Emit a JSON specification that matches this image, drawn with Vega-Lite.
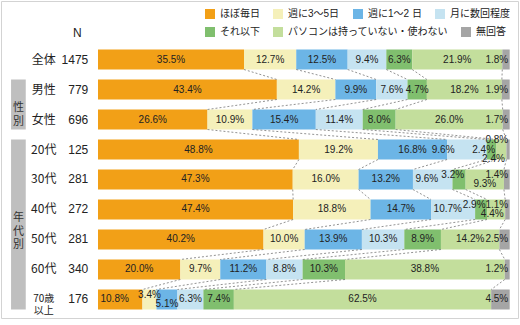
{
  "$schema": "https://vega.github.io/schema/vega-lite/v6.json",
  "width": 517,
  "height": 317,
  "autosize": {"type": "none"},
  "padding": {"left": 1, "top": 1, "right": 2, "bottom": 7},
  "background": "white",
  "config": {
    "view": {"stroke": "#d3d3d3", "strokeWidth": 1},
    "font": "Liberation Sans, Noto Sans CJK JP",
    "legend": {
      "orient": "top-right",
      "direction": "horizontal",
      "title": null,
      "symbolType": "square",
      "symbolSize": 100,
      "symbolStrokeWidth": 0,
      "labelFontSize": 10,
      "labelFont": "Liberation Sans, Noto Sans CJK JP",
      "labelColor": "#222222",
      "labelLimit": 300,
      "labelOffset": 5,
      "columnPadding": 13,
      "offset": 8,
      "padding": 0,
      "layout": {"top-right": {"direction": "vertical", "anchor": "end", "margin": 8}}
    }
  },
  "datasets": {
    "d": [
      {"g": "全体", "r": 0, "k": 0, "c": "ほぼ毎日", "v": 35.5, "lp": "c"},
      {"g": "全体", "r": 0, "k": 1, "c": "週に3～5日", "v": 12.7, "lp": "c"},
      {"g": "全体", "r": 0, "k": 2, "c": "週に1～2 日", "v": 12.5, "lp": "c"},
      {"g": "全体", "r": 0, "k": 3, "c": "月に数回程度", "v": 9.4, "lp": "c"},
      {"g": "全体", "r": 0, "k": 4, "c": "それ以下", "v": 6.3, "lp": "c"},
      {"g": "全体", "r": 0, "k": 5, "c": "パソコンは持っていない・使わない", "v": 21.9, "lp": "c"},
      {"g": "全体", "r": 0, "k": 6, "c": "無回答", "v": 1.8, "lp": "r"},
      {"g": "男性", "r": 1, "k": 0, "c": "ほぼ毎日", "v": 43.4, "lp": "c"},
      {"g": "男性", "r": 1, "k": 1, "c": "週に3～5日", "v": 14.2, "lp": "c"},
      {"g": "男性", "r": 1, "k": 2, "c": "週に1～2 日", "v": 9.9, "lp": "c"},
      {"g": "男性", "r": 1, "k": 3, "c": "月に数回程度", "v": 7.6, "lp": "c"},
      {"g": "男性", "r": 1, "k": 4, "c": "それ以下", "v": 4.7, "lp": "c"},
      {"g": "男性", "r": 1, "k": 5, "c": "パソコンは持っていない・使わない", "v": 18.2, "lp": "c"},
      {"g": "男性", "r": 1, "k": 6, "c": "無回答", "v": 1.9, "lp": "r"},
      {"g": "女性", "r": 2, "k": 0, "c": "ほぼ毎日", "v": 26.6, "lp": "c"},
      {"g": "女性", "r": 2, "k": 1, "c": "週に3～5日", "v": 10.9, "lp": "c"},
      {"g": "女性", "r": 2, "k": 2, "c": "週に1～2 日", "v": 15.4, "lp": "c"},
      {"g": "女性", "r": 2, "k": 3, "c": "月に数回程度", "v": 11.4, "lp": "c"},
      {"g": "女性", "r": 2, "k": 4, "c": "それ以下", "v": 8.0, "lp": "c"},
      {"g": "女性", "r": 2, "k": 5, "c": "パソコンは持っていない・使わない", "v": 26.0, "lp": "c"},
      {"g": "女性", "r": 2, "k": 6, "c": "無回答", "v": 1.7, "lp": "r"},
      {"g": "20代", "r": 3, "k": 0, "c": "ほぼ毎日", "v": 48.8, "lp": "c"},
      {"g": "20代", "r": 3, "k": 1, "c": "週に3～5日", "v": 19.2, "lp": "c"},
      {"g": "20代", "r": 3, "k": 2, "c": "週に1～2 日", "v": 16.8, "lp": "c"},
      {"g": "20代", "r": 3, "k": 3, "c": "月に数回程度", "v": 9.6, "lp": "s"},
      {"g": "20代", "r": 3, "k": 4, "c": "それ以下", "v": 2.4, "lp": "r"},
      {"g": "20代", "r": 3, "k": 5, "c": "パソコンは持っていない・使わない", "v": 2.4, "lp": "rD"},
      {"g": "20代", "r": 3, "k": 6, "c": "無回答", "v": 0.8, "lp": "rU"},
      {"g": "30代", "r": 4, "k": 0, "c": "ほぼ毎日", "v": 47.3, "lp": "c"},
      {"g": "30代", "r": 4, "k": 1, "c": "週に3～5日", "v": 16.0, "lp": "c"},
      {"g": "30代", "r": 4, "k": 2, "c": "週に1～2 日", "v": 13.2, "lp": "c"},
      {"g": "30代", "r": 4, "k": 3, "c": "月に数回程度", "v": 9.6, "lp": "l"},
      {"g": "30代", "r": 4, "k": 4, "c": "それ以下", "v": 3.2, "lp": "ru"},
      {"g": "30代", "r": 4, "k": 5, "c": "パソコンは持っていない・使わない", "v": 9.3, "lp": "cd"},
      {"g": "30代", "r": 4, "k": 6, "c": "無回答", "v": 1.4, "lp": "ru"},
      {"g": "40代", "r": 5, "k": 0, "c": "ほぼ毎日", "v": 47.4, "lp": "c"},
      {"g": "40代", "r": 5, "k": 1, "c": "週に3～5日", "v": 18.8, "lp": "c"},
      {"g": "40代", "r": 5, "k": 2, "c": "週に1～2 日", "v": 14.7, "lp": "c"},
      {"g": "40代", "r": 5, "k": 3, "c": "月に数回程度", "v": 10.7, "lp": "l"},
      {"g": "40代", "r": 5, "k": 4, "c": "それ以下", "v": 2.9, "lp": "ru"},
      {"g": "40代", "r": 5, "k": 5, "c": "パソコンは持っていない・使わない", "v": 4.4, "lp": "rd"},
      {"g": "40代", "r": 5, "k": 6, "c": "無回答", "v": 1.1, "lp": "ru"},
      {"g": "50代", "r": 6, "k": 0, "c": "ほぼ毎日", "v": 40.2, "lp": "c"},
      {"g": "50代", "r": 6, "k": 1, "c": "週に3～5日", "v": 10.0, "lp": "c"},
      {"g": "50代", "r": 6, "k": 2, "c": "週に1～2 日", "v": 13.9, "lp": "c"},
      {"g": "50代", "r": 6, "k": 3, "c": "月に数回程度", "v": 10.3, "lp": "c"},
      {"g": "50代", "r": 6, "k": 4, "c": "それ以下", "v": 8.9, "lp": "c"},
      {"g": "50代", "r": 6, "k": 5, "c": "パソコンは持っていない・使わない", "v": 14.2, "lp": "c"},
      {"g": "50代", "r": 6, "k": 6, "c": "無回答", "v": 2.5, "lp": "r"},
      {"g": "60代", "r": 7, "k": 0, "c": "ほぼ毎日", "v": 20.0, "lp": "c"},
      {"g": "60代", "r": 7, "k": 1, "c": "週に3～5日", "v": 9.7, "lp": "c"},
      {"g": "60代", "r": 7, "k": 2, "c": "週に1～2 日", "v": 11.2, "lp": "c"},
      {"g": "60代", "r": 7, "k": 3, "c": "月に数回程度", "v": 8.8, "lp": "c"},
      {"g": "60代", "r": 7, "k": 4, "c": "それ以下", "v": 10.3, "lp": "c"},
      {"g": "60代", "r": 7, "k": 5, "c": "パソコンは持っていない・使わない", "v": 38.8, "lp": "c"},
      {"g": "60代", "r": 7, "k": 6, "c": "無回答", "v": 1.2, "lp": "r"},
      {"g": "70歳\n以上", "r": 8, "k": 0, "c": "ほぼ毎日", "v": 10.8, "lp": "l"},
      {"g": "70歳\n以上", "r": 8, "k": 1, "c": "週に3～5日", "v": 3.4, "lp": "cu"},
      {"g": "70歳\n以上", "r": 8, "k": 2, "c": "週に1～2 日", "v": 5.1, "lp": "cd"},
      {"g": "70歳\n以上", "r": 8, "k": 3, "c": "月に数回程度", "v": 6.3, "lp": "c"},
      {"g": "70歳\n以上", "r": 8, "k": 4, "c": "それ以下", "v": 7.4, "lp": "c"},
      {"g": "70歳\n以上", "r": 8, "k": 5, "c": "パソコンは持っていない・使わない", "v": 62.5, "lp": "c"},
      {"g": "70歳\n以上", "r": 8, "k": 6, "c": "無回答", "v": 4.5, "lp": "r"}
    ],
    "rows": [
      {"g": "全体", "N": "1475"},
      {"g": "男性", "N": "779"},
      {"g": "女性", "N": "696"},
      {"g": "20代", "N": "125"},
      {"g": "30代", "N": "281"},
      {"g": "40代", "N": "272"},
      {"g": "50代", "N": "281"},
      {"g": "60代", "N": "340"},
      {"g": "70歳\n以上", "N": "176"}
    ],
    "boxes": [
      {"t": "性\n別", "g0": "男性", "g1": "女性", "ga": "女性"},
      {"t": "年\n代\n別", "g0": "20代", "g1": "70歳\n以上", "ga": "40代"}
    ]
  },
  "resolve": {"scale": {"x": "independent"}},
  "layer": [
    {
      "data": {"name": "d"},
      "resolve": {"scale": {"color": "independent"}},
      "layer": [
        {
          "transform": [
            {"stack": "v", "groupby": ["g"], "sort": [{"field": "k", "order": "ascending"}], "as": ["s0", "s1"], "offset": "normalize"},
            {"filter": "datum.k < 4"}
          ],
          "mark": {"type": "bar"},
          "encoding": {
            "y": {"field": "g", "type": "nominal", "scale": {"domain": ["hdr", "全体", "男性", "女性", "20代", "30代", "40代", "50代", "60代", "70歳\n以上"], "range": [18.5, 308.5], "paddingInner": 0.3333, "paddingOuter": 0}, "axis": null},
            "x": {"field": "s0", "type": "quantitative", "scale": {"domain": [0, 1], "range": [97, 508.7], "nice": false, "zero": false}, "axis": null},
            "x2": {"field": "s1"},
            "color": {"field": "c", "type": "nominal",
              "scale": {"domain": ["ほぼ毎日", "週に3～5日", "週に1～2 日", "月に数回程度"],
                        "range": ["#F2A017", "#F5F0BA", "#6CB5E6", "#C5E3F1"]}}
          }
        },
        {
          "transform": [
            {"stack": "v", "groupby": ["g"], "sort": [{"field": "k", "order": "ascending"}], "as": ["s0", "s1"], "offset": "normalize"},
            {"filter": "datum.k >= 4"}
          ],
          "mark": {"type": "bar"},
          "encoding": {
            "y": {"field": "g", "type": "nominal", "axis": null},
            "x": {"field": "s0", "type": "quantitative", "axis": null},
            "x2": {"field": "s1"},
            "color": {"field": "c", "type": "nominal",
              "scale": {"domain": ["それ以下", "パソコンは持っていない・使わない", "無回答"],
                        "range": ["#80BF6E", "#C3DE9C", "#A5A5A5"]}}
          }
        },
        {
          "transform": [
            {"stack": "v", "groupby": ["g"], "sort": [{"field": "k", "order": "ascending"}], "as": ["s0", "s1"], "offset": "normalize"},
            {"window": [{"op": "lead", "field": "s1", "as": "ns1"}, {"op": "lead", "field": "g", "as": "ng"}], "groupby": ["k"], "sort": [{"field": "r", "order": "ascending"}]},
            {"filter": "datum.k < 6 && isValid(datum.ng)"}
          ],
          "mark": {"type": "rule", "strokeDash": [2, 2], "color": "#777777", "strokeWidth": 0.8},
          "encoding": {
            "x": {"field": "s1", "type": "quantitative", "axis": null},
            "x2": {"field": "ns1"},
            "y": {"field": "g", "type": "nominal", "bandPosition": 1, "axis": null},
            "y2": {"field": "ng", "bandPosition": 0}
          }
        },
        {
          "mark": {"type": "text", "align": "center", "fontSize": 10, "color": "#222222"},
          "encoding": {
            "y": {"field": "g", "type": "nominal", "axis": null},
            "x": {"field": "v", "type": "quantitative", "stack": "normalize", "bandPosition": 0.5, "axis": null},
            "detail": {"field": "c"},
            "order": {"field": "k", "type": "quantitative"},
            "text": {"value": {"expr": "datum.lp === 'c' ? format(datum.v, '.1f') + '%' : ''"}}
          }
        },
        {
          "mark": {"type": "text", "align": "center", "fontSize": 10, "color": "#222222", "dy": -4.5},
          "encoding": {
            "y": {"field": "g", "type": "nominal", "axis": null},
            "x": {"field": "v", "type": "quantitative", "stack": "normalize", "bandPosition": 0.5, "axis": null},
            "detail": {"field": "c"},
            "order": {"field": "k", "type": "quantitative"},
            "text": {"value": {"expr": "datum.lp === 'cu' ? format(datum.v, '.1f') + '%' : ''"}}
          }
        },
        {
          "mark": {"type": "text", "align": "center", "fontSize": 10, "color": "#222222", "dy": 5},
          "encoding": {
            "y": {"field": "g", "type": "nominal", "axis": null},
            "x": {"field": "v", "type": "quantitative", "stack": "normalize", "bandPosition": 0.5, "axis": null},
            "detail": {"field": "c"},
            "order": {"field": "k", "type": "quantitative"},
            "text": {"value": {"expr": "datum.lp === 'cd' ? format(datum.v, '.1f') + '%' : ''"}}
          }
        },
        {
          "mark": {"type": "text", "align": "left", "fontSize": 10, "color": "#222222", "dx": 2.5},
          "encoding": {
            "y": {"field": "g", "type": "nominal", "axis": null},
            "x": {"field": "v", "type": "quantitative", "stack": "normalize", "bandPosition": 0, "axis": null},
            "detail": {"field": "c"},
            "order": {"field": "k", "type": "quantitative"},
            "text": {"value": {"expr": "datum.lp === 'l' ? format(datum.v, '.1f') + '%' : ''"}}
          }
        },
        {
          "mark": {"type": "text", "align": "center", "fontSize": 10, "color": "#222222", "dx": -4},
          "encoding": {
            "y": {"field": "g", "type": "nominal", "axis": null},
            "x": {"field": "v", "type": "quantitative", "stack": "normalize", "bandPosition": 0, "axis": null},
            "detail": {"field": "c"},
            "order": {"field": "k", "type": "quantitative"},
            "text": {"value": {"expr": "datum.lp === 's' ? format(datum.v, '.1f') + '%' : ''"}}
          }
        },
        {
          "mark": {"type": "text", "align": "right", "fontSize": 10, "color": "#222222", "dx": -1.5},
          "encoding": {
            "y": {"field": "g", "type": "nominal", "axis": null},
            "x": {"field": "v", "type": "quantitative", "stack": "normalize", "bandPosition": 1, "axis": null},
            "detail": {"field": "c"},
            "order": {"field": "k", "type": "quantitative"},
            "text": {"value": {"expr": "datum.lp === 'r' ? format(datum.v, '.1f') + '%' : ''"}}
          }
        },
        {
          "mark": {"type": "text", "align": "right", "fontSize": 10, "color": "#222222", "dx": -1.5, "dy": -4.5},
          "encoding": {
            "y": {"field": "g", "type": "nominal", "axis": null},
            "x": {"field": "v", "type": "quantitative", "stack": "normalize", "bandPosition": 1, "axis": null},
            "detail": {"field": "c"},
            "order": {"field": "k", "type": "quantitative"},
            "text": {"value": {"expr": "datum.lp === 'ru' ? format(datum.v, '.1f') + '%' : ''"}}
          }
        },
        {
          "mark": {"type": "text", "align": "right", "fontSize": 10, "color": "#222222", "dx": -1.5, "dy": 5},
          "encoding": {
            "y": {"field": "g", "type": "nominal", "axis": null},
            "x": {"field": "v", "type": "quantitative", "stack": "normalize", "bandPosition": 1, "axis": null},
            "detail": {"field": "c"},
            "order": {"field": "k", "type": "quantitative"},
            "text": {"value": {"expr": "datum.lp === 'rd' ? format(datum.v, '.1f') + '%' : ''"}}
          }
        },
        {
          "mark": {"type": "text", "align": "right", "fontSize": 10, "color": "#222222", "dx": -1.5, "dy": -9.5},
          "encoding": {
            "y": {"field": "g", "type": "nominal", "axis": null},
            "x": {"field": "v", "type": "quantitative", "stack": "normalize", "bandPosition": 1, "axis": null},
            "detail": {"field": "c"},
            "order": {"field": "k", "type": "quantitative"},
            "text": {"value": {"expr": "datum.lp === 'rU' ? format(datum.v, '.1f') + '%' : ''"}}
          }
        },
        {
          "mark": {"type": "text", "align": "right", "fontSize": 10, "color": "#222222", "dx": -1.5, "dy": 9.5},
          "encoding": {
            "y": {"field": "g", "type": "nominal", "axis": null},
            "x": {"field": "v", "type": "quantitative", "stack": "normalize", "bandPosition": 1, "axis": null},
            "detail": {"field": "c"},
            "order": {"field": "k", "type": "quantitative"},
            "text": {"value": {"expr": "datum.lp === 'rD' ? format(datum.v, '.1f') + '%' : ''"}}
          }
        }
      ]
    },
    {
      "layer": [
        {
          "data": {"name": "boxes"},
          "mark": {"type": "rect", "width": 14.7, "color": "#BFBFBF"},
          "encoding": {
            "x": {"datum": "box", "type": "nominal", "scale": {"type": "point", "domain": ["box", "name", "n"], "range": [17.4, 87.3], "padding": 0}, "axis": null},
            "y": {"field": "g0", "type": "nominal", "bandPosition": 0, "axis": null},
            "y2": {"field": "g1", "bandPosition": 1}
          }
        },
        {
          "data": {"name": "boxes"},
          "transform": [{"filter": "datum.ga === '女性'"}],
          "mark": {"type": "text", "align": "center", "fontSize": 11, "lineBreak": "\n", "lineHeight": 13.5, "color": "#333333", "font": "Noto Sans CJK JP"},
          "encoding": {
            "x": {"datum": "box", "type": "nominal"},
            "y": {"field": "ga", "type": "nominal", "bandPosition": -0.05, "axis": null},
            "text": {"field": "t"}
          }
        },
        {
          "data": {"name": "boxes"},
          "transform": [{"filter": "datum.ga === '40代'"}],
          "mark": {"type": "text", "align": "center", "fontSize": 11, "lineBreak": "\n", "lineHeight": 13.5, "color": "#333333", "font": "Noto Sans CJK JP"},
          "encoding": {
            "x": {"datum": "box", "type": "nominal"},
            "y": {"field": "ga", "type": "nominal", "bandPosition": 0.93, "axis": null},
            "text": {"field": "t"}
          }
        },
        {
          "data": {"name": "rows"},
          "mark": {"type": "text", "align": "center", "dx": -9.6, "lineBreak": "\n", "lineHeight": 11.5, "color": "#222222", "font": "Noto Sans CJK JP"},
          "encoding": {
            "x": {"datum": "name", "type": "nominal"},
            "y": {"field": "g", "type": "nominal", "axis": null},
            "text": {"field": "g"},
            "size": {"condition": {"test": "datum.N === '176'", "value": 10}, "value": 12}
          }
        },
        {
          "data": {"name": "rows"},
          "mark": {"type": "text", "align": "right", "fontSize": 12, "color": "#222222"},
          "encoding": {
            "x": {"datum": "n", "type": "nominal"},
            "y": {"field": "g", "type": "nominal", "axis": null},
            "text": {"field": "N"}
          }
        },
        {
          "data": {"values": [{"g": "hdr", "t": "N"}]},
          "mark": {"type": "text", "align": "center", "fontSize": 12, "dx": -11, "color": "#222222"},
          "encoding": {
            "x": {"datum": "n", "type": "nominal"},
            "y": {"field": "g", "type": "nominal", "bandPosition": 0.68, "axis": null},
            "text": {"field": "t"}
          }
        }
      ]
    }
  ]
}
